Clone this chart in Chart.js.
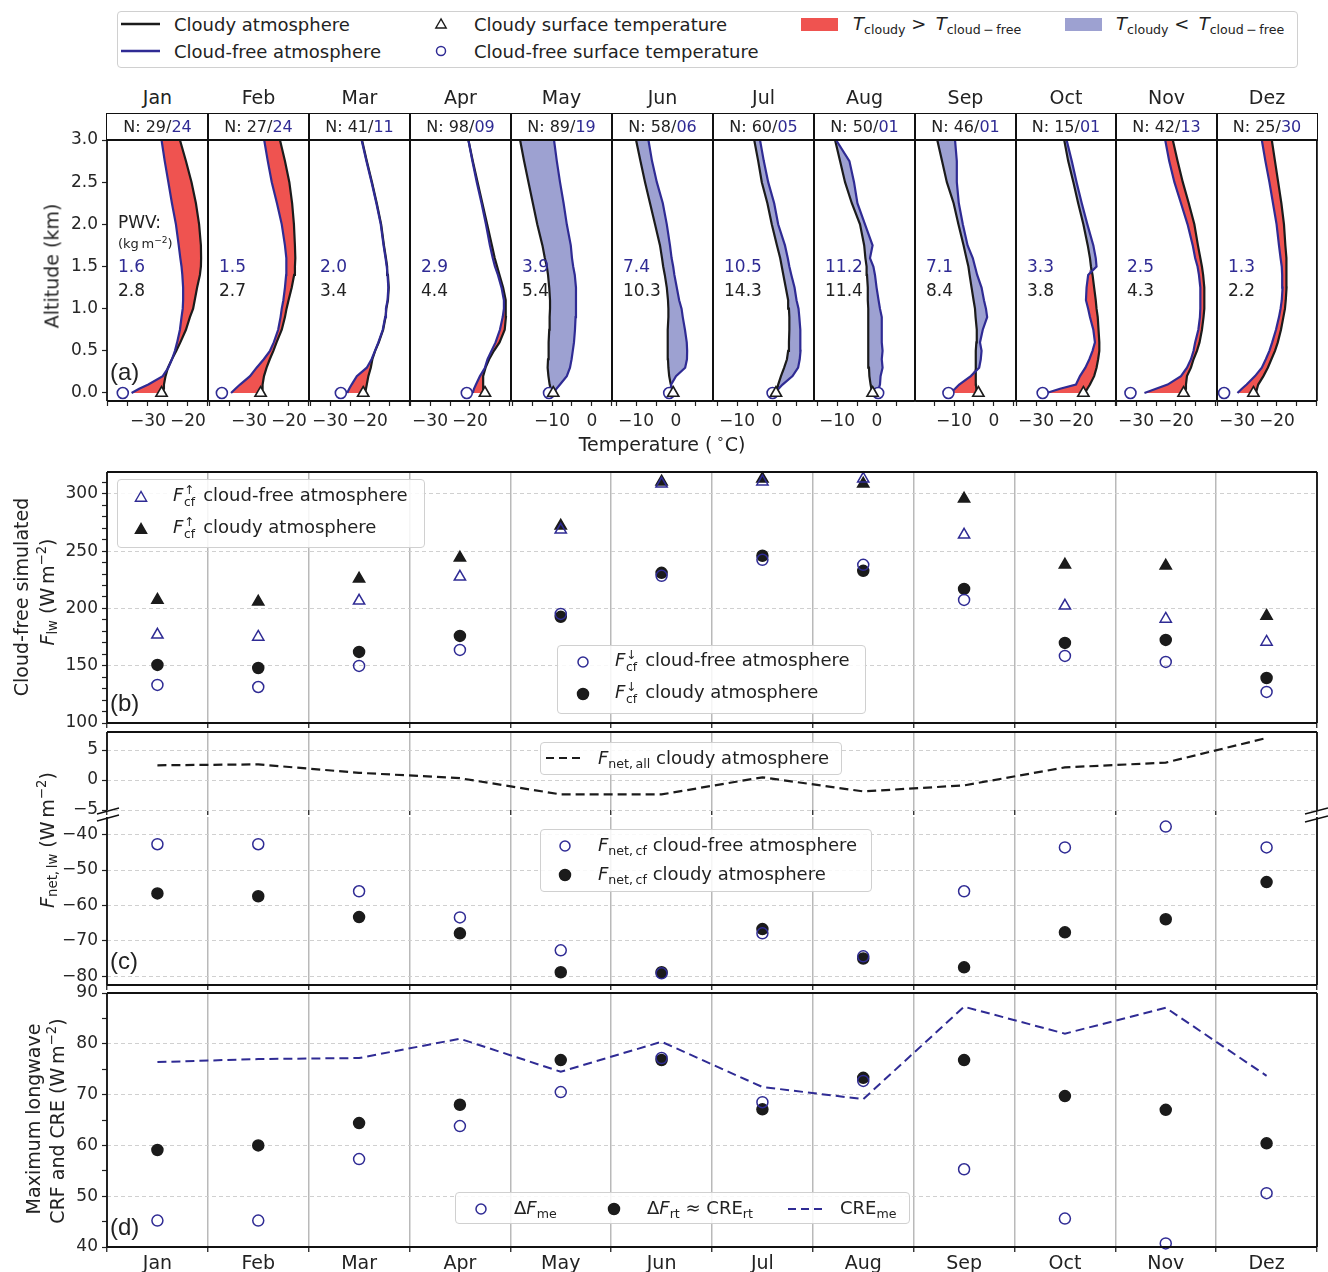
<!DOCTYPE html>
<html>
<head>
<meta charset="utf-8">
<title>Cloudy vs cloud-free longwave fluxes</title>
<script src="https://cdn.jsdelivr.net/npm/chart.js@4.4.1/dist/chart.umd.min.js"></script>
<style>
  body { margin: 0; background: #fff; }
  #fig { position: relative; width: 1328px; height: 1272px; overflow: hidden;
         font-family: 'DejaVu Sans', sans-serif; color: #222; }
  .cv { position: absolute; }
  .txt { position: absolute; white-space: nowrap; line-height: 1; z-index: 4; }
  .box { position: absolute; box-sizing: border-box; border: 1.3px solid #d0d0d0;
         border-radius: 4px; background: rgba(255,255,255,0.85); z-index: 3; }
  .hdr { position: absolute; box-sizing: border-box; border: 1.8px solid #111; z-index: 3; }
  sub { font-size: 70%; vertical-align: -0.3em; line-height: 0; }
  sup { font-size: 70%; vertical-align: 0.55em; line-height: 0; }
  .ss { display: inline-block; font-size: 0.68em; line-height: 0.95; vertical-align: -0.45em; margin: 0 0.2em 0 0.05em; }
  .ss span { display: block; }
  #overlay { position: absolute; left: 0; top: 0; z-index: 5; pointer-events: none; }
</style>
</head>
<body>
<div id="fig">
  <svg id="overlay" width="1328" height="1272"></svg>
</div>
<script>
'use strict';

// ******** DATA **************
const months = ['Jan', 'Feb', 'Mar', 'Apr', 'May', 'Jun', 'Jul', 'Aug', 'Sep', 'Oct', 'Nov', 'Dez'];

// panel (a) - mean profiles, altitude in km, temperature in deg C (one row per month)
const altitudes = [0, 0.05, 0.1, 0.2, 0.3, 0.4, 0.5, 0.6, 0.75, 0.9, 1.0, 1.1, 1.25, 1.4, 1.5, 1.6, 1.75, 2.0, 2.25, 2.5, 2.75, 3.0];

const tempCloudy = [
  [-26.3, -26.2, -26.0, -25.6, -25.0, -24.0, -22.9, -21.9, -20.5, -19.5, -18.7, -18.3, -17.7, -17.0, -16.75, -16.7, -16.75, -17.2, -18.0, -19.1, -20.5, -22.0],
  [-26.75, -26.7, -26.6, -26.25, -25.6, -24.8, -23.9, -23.1, -21.8, -21.0, -20.6, -20.1, -19.3, -18.7, -18.5, -18.4, -18.5, -18.75, -19.2, -19.9, -21.0, -22.25],
  [-21.25, -21.0, -20.8, -20.4, -19.8, -19.4, -18.7, -17.8, -16.7, -16.1, -15.9, -15.5, -15.3, -15.5, -15.7, -16.0, -16.5, -17.2, -18.3, -19.5, -20.8, -22.0],
  [-16.7, -16.7, -16.7, -16.7, -16.1, -15.2, -14.0, -12.6, -11.3, -11.0, -11.0, -11.1, -11.7, -12.6, -13.2, -13.8, -14.5, -15.7, -16.9, -18.1, -19.3, -20.4],
  [-9.8, -10.3, -10.6, -10.9, -11.1, -11.0, -10.9, -10.8, -10.7, -10.6, -10.5, -10.5, -10.7, -11.0, -11.3, -11.8, -12.4, -13.7, -14.8, -15.9, -17.0, -18.0],
  [-0.5, -1.0, -1.3, -1.7, -1.9, -2.0, -2.1, -2.1, -2.0, -1.9, -1.9, -2.0, -2.3, -2.8, -3.2, -3.5, -4.0, -5.25, -6.5, -7.75, -8.9, -10.0],
  [-0.1, 0.1, 0.3, 1.0, 1.8, 2.5, 2.8, 3.0, 3.1, 3.1, 3.0, 2.8, 2.2, 1.6, 1.2, 0.8, 0.0, -1.3, -2.4, -3.8, -4.7, -5.7],
  [-1.1, -1.4, -1.6, -1.9, -2.0, -2.1, -2.2, -2.2, -2.2, -2.2, -2.2, -2.3, -2.3, -2.5, -2.6, -2.9, -3.2, -4.25, -6.3, -8.0, -9.25, -10.5],
  [-4.3, -4.4, -4.5, -4.6, -4.6, -4.5, -4.5, -4.4, -4.3, -4.6, -4.75, -5.1, -5.6, -6.1, -6.4, -6.9, -7.6, -8.9, -10.1, -11.8, -13.0, -14.2],
  [-17.5, -16.9, -16.25, -15.2, -14.6, -14.2, -13.9, -13.9, -14.1, -14.3, -14.6, -14.8, -15.2, -15.6, -16.0, -16.25, -16.8, -17.9, -19.2, -20.4, -21.7, -22.7],
  [-17.75, -17.6, -17.5, -17.25, -16.25, -15.6, -14.75, -14.1, -13.5, -13.1, -12.9, -12.9, -12.9, -13.2, -13.5, -13.9, -14.5, -15.4, -16.8, -18.3, -19.6, -20.8],
  [-25.25, -25.0, -24.7, -23.4, -22.3, -21.4, -20.5, -19.8, -19.0, -18.4, -18.0, -17.8, -17.6, -17.6, -17.6, -17.7, -17.9, -18.25, -18.9, -19.7, -20.5, -21.3]
];

const tempCloudFree = [
  [-34.1, -32.2, -29.9, -26.3, -24.9, -24.0, -23.25, -22.7, -22.0, -21.6, -21.3, -21.2, -21.2, -21.4, -21.6, -21.9, -22.3, -23.0, -24.0, -24.9, -25.8, -26.6],
  [-34.5, -33.4, -32.25, -29.75, -28.1, -26.3, -24.75, -23.8, -22.7, -22.1, -21.8, -21.4, -21.0, -20.7, -20.6, -20.7, -21.0, -21.8, -23.0, -24.3, -25.3, -26.2],
  [-25.7, -25.2, -24.6, -23.3, -20.8, -19.6, -18.75, -17.9, -16.8, -16.2, -16.0, -15.6, -15.4, -15.6, -15.8, -16.1, -16.6, -17.3, -18.4, -19.6, -20.9, -22.1],
  [-19.3, -19.0, -18.5, -17.5, -16.25, -15.6, -14.6, -13.6, -12.5, -11.8, -11.5, -11.5, -12.1, -13.0, -13.75, -14.3, -15.0, -16.0, -17.1, -18.3, -19.4, -20.4],
  [-9.5, -8.9, -8.0, -6.3, -5.5, -5.1, -4.8, -4.5, -4.25, -4.1, -4.0, -4.0, -4.0, -4.3, -4.7, -5.0, -5.3, -6.3, -7.1, -8.0, -8.8, -9.5],
  [-0.8, -1.3, -1.2, 0.0, 2.3, 2.75, 2.8, 2.7, 2.25, 1.7, 1.4, 0.8, 0.2, -0.4, -0.7, -1.1, -1.5, -2.3, -3.3, -4.8, -6.0, -6.9],
  [-0.25, 0.4, 1.4, 3.9, 5.3, 5.7, 5.9, 5.9, 5.8, 5.6, 5.4, 4.9, 4.4, 3.6, 3.1, 2.7, 2.0, 0.3, -0.7, -2.2, -3.3, -4.25],
  [0.3, 0.45, 0.75, 0.9, 1.4, 1.2, 1.4, 1.2, 1.2, 1.2, 0.75, 0.4, -0.1, -0.5, -0.9, -1.75, -1.1, -3.0, -4.9, -5.75, -6.9, -10.25],
  [-11.0, -9.75, -8.7, -5.8, -3.7, -3.3, -3.1, -3.5, -2.8, -1.7, -2.0, -2.5, -3.1, -4.2, -4.75, -5.3, -6.6, -7.8, -8.8, -9.3, -9.3, -9.75],
  [-27.1, -23.75, -19.75, -18.75, -17.4, -16.4, -15.6, -15.0, -15.4, -16.25, -16.7, -17.25, -17.1, -16.7, -14.6, -14.8, -15.4, -16.9, -18.3, -19.6, -20.8, -22.1],
  [-27.9, -25.0, -22.1, -18.75, -17.25, -16.25, -15.6, -15.2, -14.4, -14.0, -13.9, -13.9, -13.9, -14.25, -14.6, -15.2, -15.8, -17.1, -18.75, -20.4, -21.7, -22.7],
  [-29.9, -28.8, -27.6, -25.5, -23.8, -22.8, -21.9, -21.2, -20.25, -19.5, -19.1, -18.8, -18.6, -18.7, -18.8, -19.1, -19.5, -20.1, -21.0, -21.9, -22.9, -23.8]
];

const sfcTempCloudy = [-26.6, -27.1, -21.7, -16.25, -9.7, -0.7, -0.25, -1.1, -3.9, -17.9, -18.1, -25.9];
const sfcTempCloudFree = [-36.3, -36.8, -27.3, -20.8, -10.75, -1.7, -1.1, 0.3, -11.4, -28.1, -31.4, -33.25];

const nCloudy = ['29', '27', '41', '98', '89', '58', '60', '50', '46', '15', '42', '25'];
const nCloudFree = ['24', '24', '11', '09', '19', '06', '05', '01', '01', '01', '13', '30'];
const pwvCloudFree = ['1.6', '1.5', '2.0', '2.9', '3.9', '7.4', '10.5', '11.2', '7.1', '3.3', '2.5', '1.3'];
const pwvCloudy = ['2.8', '2.7', '3.4', '4.4', '5.4', '10.3', '14.3', '11.4', '8.4', '3.8', '4.3', '2.2'];

// temperature axis limits and labelled ticks for each small panel
const tempMin = [-40.25, -40.25, -35.25, -35, -20.25, -16, -16, -15.75, -19.75, -34.75, -35, -35];
const tempMax = [-15, -15, -10, -9.75, 5, 9.25, 9.25, 9.5, 5.5, -9.75, -9.75, -10];
const tempTickLabels = [[-30, -20], [-30, -20], [-30, -20], [-30, -20], [-10, 0], [-10, 0], [-10, 0], [-10, 0], [-10, 0], [-30, -20], [-30, -20], [-30, -20]];

// panel (b) - cloud-free simulated longwave fluxes (W m-2)
const fluxUpCloudFree = [176.9, 175.1, 206.6, 227.5, 268.6, 308.7, 310.5, 313.1, 264.2, 202.2, 190.8, 170.7];
const fluxUpCloudy = [207.4, 205.7, 225.8, 244.1, 272.0, 310.5, 313.1, 308.7, 295.6, 238.0, 237.1, 193.4];
const fluxDownCloudFree = [133.2, 131.4, 149.8, 163.8, 195.2, 228.4, 242.4, 238.0, 207.4, 158.5, 153.3, 127.1];
const fluxDownCloudy = [150.7, 148.0, 162.0, 176.0, 192.6, 231.0, 245.9, 232.8, 217.0, 169.9, 172.5, 139.3];

// panel (c) - net longwave (W m-2)
const fNetAllCloudy = [2.45, 2.6, 1.2, 0.3, -2.4, -2.4, 0.45, -1.9, -0.9, 2.1, 2.9, 7.0];
const fNetCloudFree = [-42.7, -42.7, -56.0, -63.4, -72.7, -79.2, -67.9, -74.4, -56.0, -43.6, -37.7, -43.6];
const fNetCloudy = [-56.6, -57.4, -63.3, -67.9, -78.9, -78.9, -66.7, -75.0, -77.5, -67.6, -63.9, -53.4];

// panel (d) - maximum longwave CRF and CRE (W m-2)
const creMe = [76.4, 77.0, 77.2, 81.0, 74.5, 80.4, 71.5, 69.1, 87.3, 82.0, 87.1, 73.7];
const deltaFrt = [59.1, 60.0, 64.4, 68.0, 76.8, 76.8, 67.1, 73.3, 76.8, 69.7, 67.0, 60.4];
const deltaFme = [45.2, 45.2, 57.3, 63.8, 70.5, 77.2, 68.5, 72.7, 55.3, 45.6, 40.7, 50.6];

// ******** STYLE **************
const BLUE = '#2f2b94';
const BLACK = '#1b1b1b';
const RED_FILL = '#ef5350';
const BLUE_FILL = '#9da1d1';
const GRID_V = '#b9b9b9';
const GRID_H = '#d0d0d0';

Chart.defaults.font.family = "'DejaVu Sans', sans-serif";
Chart.defaults.font.size = 17;
Chart.defaults.color = '#262626';
Chart.defaults.animation = false;
Chart.defaults.responsive = false;
Chart.defaults.events = [];
Chart.defaults.plugins.legend.display = false;
Chart.defaults.plugins.tooltip.enabled = false;

// frame round the plot area (matplotlib spines)
const framePlugin = {
  id: 'frame',
  defaults: { sides: 'tlbr' },
  afterDatasetsDraw(chart, args, opts) {
    const { ctx, chartArea: a } = chart;
    const s = opts.sides;
    ctx.save();
    ctx.strokeStyle = '#111';
    ctx.lineWidth = 1.8;
    ctx.beginPath();
    if (s.includes('t')) { ctx.moveTo(a.left, a.top); ctx.lineTo(a.right, a.top); }
    if (s.includes('b')) { ctx.moveTo(a.left, a.bottom); ctx.lineTo(a.right, a.bottom); }
    if (s.includes('l')) { ctx.moveTo(a.left, a.top); ctx.lineTo(a.left, a.bottom); }
    if (s.includes('r')) { ctx.moveTo(a.right, a.top); ctx.lineTo(a.right, a.bottom); }
    ctx.stroke();
    ctx.restore();
  }
};
Chart.register(framePlugin);

// ********* HELPERS ****************
const fig = document.getElementById('fig');
const overlay = document.getElementById('overlay');
const NS = 'http://www.w3.org/2000/svg';

function minus(v) {
  return String(v).replace('-', '\u2212');
}

function isMajor(v, step) {
  const r = v / step;
  return Math.abs(r - Math.round(r)) < 1e-6;
}

function makeCanvas(left, top, width, height) {
  const c = document.createElement('canvas');
  c.className = 'cv';
  c.width = width;
  c.height = height;
  c.style.left = left + 'px';
  c.style.top = top + 'px';
  fig.appendChild(c);
  return c;
}

function addText(html, x, y, size, how) {
  const d = document.createElement('div');
  d.className = 'txt';
  d.innerHTML = html;
  d.style.left = x + 'px';
  d.style.top = y + 'px';
  d.style.fontSize = size + 'px';
  if (how === 'left') {
    d.style.transform = 'translateY(-50%)';
  } else if (how === 'rot') {
    d.style.transform = 'translate(-50%, -50%) rotate(-90deg)';
  } else {
    d.style.transform = 'translate(-50%, -50%)';
  }
  fig.appendChild(d);
  return d;
}

function addBox(x, y, w, h, cls) {
  const d = document.createElement('div');
  d.className = cls || 'box';
  d.style.left = x + 'px';
  d.style.top = y + 'px';
  d.style.width = w + 'px';
  d.style.height = h + 'px';
  fig.appendChild(d);
  return d;
}

function svgEl(tag, attrs) {
  const el = document.createElementNS(NS, tag);
  for (const k in attrs) el.setAttribute(k, attrs[k]);
  overlay.appendChild(el);
  return el;
}

function markTri(cx, cy, r, stroke, fill) {
  const pts = [[cx, cy - r], [cx - 0.866 * r, cy + 0.5 * r], [cx + 0.866 * r, cy + 0.5 * r]];
  svgEl('polygon', { points: pts.map(p => p.join(',')).join(' '), stroke, fill, 'stroke-width': 1.4 });
}

function markCircle(cx, cy, r, stroke, fill) {
  svgEl('circle', { cx, cy, r, stroke, fill, 'stroke-width': 1.5 });
}

function markLine(x1, y1, x2, y2, stroke, width, dash) {
  const a = { x1, y1, x2, y2, stroke, 'stroke-width': width };
  if (dash) a['stroke-dasharray'] = dash;
  svgEl('line', a);
}

// scatter style dataset on the month axis
function dots(values, style, radius, color, filled) {
  return {
    data: values, showLine: false, fill: false, clip: false,
    pointStyle: style, pointRadius: radius, pointBorderWidth: 1.5,
    pointBorderColor: color, borderColor: color,
    pointBackgroundColor: filled ? color : 'rgba(0,0,0,0)'
  };
}

function monthAxis(showLabels, height) {
  return {
    type: 'category', offset: true,
    grid: { offset: true, color: GRID_V, lineWidth: 1.5, drawTicks: true, tickLength: 5, tickColor: '#222', tickWidth: 1.3 },
    border: { display: false },
    ticks: { display: showLabels, font: { size: 19 }, color: '#222', padding: 1, maxRotation: 0, autoSkip: false },
    afterFit: s => { s.height = height; }
  };
}

function valueAxis(min, max, step, major, width) {
  return {
    type: 'linear', min, max,
    ticks: {
      stepSize: step, includeBounds: false, autoSkip: false, padding: 4,
      callback: v => isMajor(v, major) ? minus(v) : ''
    },
    grid: {
      color: c => (c.tick && isMajor(c.tick.value, major)) ? GRID_H : 'rgba(0,0,0,0)',
      lineWidth: 1, tickLength: 5, tickColor: '#222', tickWidth: 1.2
    },
    border: { display: false, dash: [4, 3] },
    afterFit: s => { s.width = width; }
  };
}

// ********* PANEL (a): PROFILES *******************
const colEdges = [107, 208, 309, 410, 511, 612, 713, 814, 915, 1016, 1116, 1217, 1317];
const profTop = 140, profH = 261;

for (let i = 0; i < months.length; i++) {
  const x0 = colEdges[i];
  const x1 = colEdges[i + 1];
  const yAxW = i === 0 ? 60 : 0;
  const padL = i === 0 ? 0 : 8;
  const padR = 8, padT = 15, axH = 34;
  const cv = makeCanvas(x0 - yAxW - padL, profTop - padT, yAxW + padL + (x1 - x0) + padR, padT + profH + axH);

  const cloudy = altitudes.map((a, k) => ({ x: tempCloudy[i][k], y: a }));
  const clear = altitudes.map((a, k) => ({ x: tempCloudFree[i][k], y: a }));
  // colder of the two profiles: both fills are closed against it
  const colder = altitudes.map((a, k) => ({ x: Math.min(tempCloudy[i][k], tempCloudFree[i][k]), y: a }));
  const labelled = tempTickLabels[i];

  new Chart(cv, {
    type: 'line',
    data: {
      datasets: [
        { data: colder, borderWidth: 0, borderColor: 'rgba(0,0,0,0)', pointRadius: 0, fill: false },
        { data: clear, borderColor: BLUE, borderWidth: 2.2, pointRadius: 0, fill: 0, backgroundColor: BLUE_FILL },
        { data: cloudy, borderColor: BLACK, borderWidth: 2.2, pointRadius: 0, fill: 0, backgroundColor: RED_FILL },
        { data: [{ x: sfcTempCloudy[i], y: 0 }], showLine: false, fill: false, clip: false, order: -1,
          pointStyle: 'triangle', pointRadius: 6.5, pointBorderWidth: 1.6,
          pointBorderColor: BLACK, borderColor: BLACK, pointBackgroundColor: '#fff' },
        { data: [{ x: sfcTempCloudFree[i], y: 0 }], showLine: false, fill: false, clip: false, order: -1,
          pointStyle: 'circle', pointRadius: 5.5, pointBorderWidth: 1.6,
          pointBorderColor: BLUE, borderColor: BLUE, pointBackgroundColor: '#fff' }
      ]
    },
    options: {
      indexAxis: 'y',
      layout: { padding: { left: padL, right: padR, top: padT, bottom: 0 } },
      plugins: { filler: { drawTime: 'beforeDatasetsDraw' } },
      scales: {
        x: {
          type: 'linear', position: 'bottom', min: tempMin[i], max: tempMax[i],
          ticks: {
            stepSize: 5, includeBounds: false, autoSkip: false, maxRotation: 0, padding: 5,
            callback: v => labelled.includes(Math.round(v)) ? minus(Math.round(v)) : ''
          },
          grid: { drawOnChartArea: false, drawTicks: true, tickLength: 5, tickColor: '#222', tickWidth: 1.2 },
          border: { display: false },
          afterFit: s => { s.height = axH; }
        },
        y: {
          type: 'linear', min: -0.095, max: 3.0, display: i === 0,
          ticks: { stepSize: 0.5, includeBounds: false, autoSkip: false, padding: 4, callback: v => v.toFixed(1) },
          grid: { drawOnChartArea: false, tickLength: 5, tickColor: '#222', tickWidth: 1.2 },
          border: { display: false },
          afterFit: s => { s.width = yAxW; }
        }
      }
    }
  });

  // titles, N box and PWV numbers
  const xc = (x0 + x1) / 2;
  addText(months[i], xc, 97, 19, 'center');
  addBox(x0 - 0.9, 113, x1 - x0 + 1.8, 28, 'hdr');
  addText('N: ' + nCloudy[i] + '/<span style="color:' + BLUE + '">' + nCloudFree[i] + '</span>', xc, 127, 16, 'center');
  addText(pwvCloudFree[i], x0 + 11, 266, 17, 'left').style.color = BLUE;
  addText(pwvCloudy[i], x0 + 11, 290, 17, 'left');
}

addText('PWV:', 118, 222, 17, 'left');
addText('(kg&#8201;m<sup>\u22122</sup>)', 118, 243, 13, 'left');
addText('Altitude (km)', 52, 266, 19, 'rot');
addText('Temperature (&#8201;<sup>\u2218</sup>C)', 662, 444, 19, 'center');
addText('(a)', 110, 372, 24, 'left').style.fontFamily = "'Liberation Sans', sans-serif";

// ********* PANEL (b) *******************
new Chart(makeCanvas(0, 457, 1328, 286), {
  type: 'line',
  data: {
    labels: months,
    datasets: [
      dots(fluxUpCloudFree, 'triangle', 6.5, BLUE, false),
      dots(fluxUpCloudy, 'triangle', 6.5, BLACK, true),
      dots(fluxDownCloudFree, 'circle', 5.5, BLUE, false),
      dots(fluxDownCloudy, 'circle', 5.5, BLACK, true)
    ]
  },
  options: {
    layout: { padding: { left: 0, right: 11, top: 15, bottom: 0 } },
    scales: { x: monthAxis(false, 20), y: valueAxis(100, 319, 10, 50, 107) }
  }
});

// ********* PANEL (c): broken axis, two charts *******************
new Chart(makeCanvas(0, 717, 1328, 108), {
  type: 'line',
  data: {
    labels: months,
    datasets: [{ data: fNetAllCloudy, borderColor: BLACK, borderWidth: 2.2, borderDash: [9, 5], pointRadius: 0, fill: false }]
  },
  options: {
    layout: { padding: { left: 0, right: 11, top: 15, bottom: 0 } },
    plugins: { frame: { sides: 'tlr' } },
    scales: { x: monthAxis(false, 15), y: valueAxis(-5, 8, 5, 5, 107) }
  }
});

new Chart(makeCanvas(0, 802, 1328, 198), {
  type: 'line',
  data: {
    labels: months,
    datasets: [
      dots(fNetCloudFree, 'circle', 5.5, BLUE, false),
      dots(fNetCloudy, 'circle', 5.5, BLACK, true)
    ]
  },
  options: {
    layout: { padding: { left: 0, right: 11, top: 15, bottom: 0 } },
    plugins: { frame: { sides: 'lbr' } },
    scales: { x: monthAxis(false, 15), y: valueAxis(-82.5, -35, 10, 10, 107) }
  }
});

// ********* PANEL (d) *******************
new Chart(makeCanvas(0, 978, 1328, 294), {
  type: 'line',
  data: {
    labels: months,
    datasets: [
      { data: creMe, borderColor: BLUE, borderWidth: 2, borderDash: [9, 5], pointRadius: 0, fill: false },
      dots(deltaFme, 'circle', 5.5, BLUE, false),
      dots(deltaFrt, 'circle', 5.5, BLACK, true)
    ]
  },
  options: {
    layout: { padding: { left: 0, right: 11, top: 15, bottom: 0 } },
    scales: { x: monthAxis(true, 25), y: valueAxis(40, 90, 5, 10, 107) }
  }
});

// ********* AXIS TITLES, LETTERS *******************
const FIc = '<i>F</i>';
addText('Cloud-free simulated', 21, 597, 19, 'rot');
addText(FIc + '<sub>lw</sub> (W&#8201;m<sup>\u22122</sup>)', 47, 592, 19, 'rot');
addText(FIc + '<sub>net,&#8201;lw</sub> (W&#8201;m<sup>\u22122</sup>)', 47, 840, 19, 'rot');
addText('Maximum longwave', 33, 1119, 19, 'rot');
addText('CRF and CRE (W&#8201;m<sup>\u22122</sup>)', 57, 1121, 19, 'rot');
['(b)', '(c)', '(d)'].forEach((t, k) => {
  addText(t, 110, [703, 961, 1227][k], 24, 'left').style.fontFamily = "'Liberation Sans', sans-serif";
});

// ********* LEGENDS *******************
const TC = '<i>T</i><sub>cloudy</sub>';
const TCF = '<i>T</i><sub>cloud\u2009\u2212\u2009free</sub>';
addBox(117, 11, 1181, 57);
markLine(121, 24, 160, 24, BLACK, 2.5);
addText('Cloudy atmosphere', 174, 25, 18, 'left');
markLine(121, 51, 160, 51, BLUE, 2.5);
addText('Cloud-free atmosphere', 174, 52, 18, 'left');
markTri(441, 25, 6, BLACK, '#fff');
addText('Cloudy surface temperature', 474, 25, 18, 'left');
markCircle(441, 51, 4.5, BLUE, '#fff');
addText('Cloud-free surface temperature', 474, 52, 18, 'left');
svgEl('rect', { x: 801, y: 18, width: 37, height: 13, fill: RED_FILL });
addText(TC + ' &gt;&#8201; ' + TCF, 853, 24, 18, 'left');
svgEl('rect', { x: 1065, y: 18, width: 37, height: 13, fill: BLUE_FILL });
addText(TC + ' &lt;&#8201; ' + TCF, 1116, 24, 18, 'left');

const fUp = '<i>F</i><span class="ss"><span>\u2191</span><span>cf</span></span>';
const fDown = '<i>F</i><span class="ss"><span>\u2193</span><span>cf</span></span>';
addBox(117, 479, 308, 69);
markTri(141, 498, 6.5, BLUE, 'none');
addText(fUp + ' cloud-free atmosphere', 173, 497, 18, 'left');
markTri(141, 530, 6.5, BLACK, BLACK);
addText(fUp + ' cloudy atmosphere', 173, 529, 18, 'left');

addBox(557, 645, 309, 69);
markCircle(583, 662, 5, BLUE, 'none');
addText(fDown + ' cloud-free atmosphere', 615, 662, 18, 'left');
markCircle(583, 694, 5.5, BLACK, BLACK);
addText(fDown + ' cloudy atmosphere', 615, 694, 18, 'left');

addBox(540, 742, 302, 33);
markLine(546, 758, 584, 758, BLACK, 2.2, '8 5');
addText(FIc + '<sub>net,&#8201;all</sub> cloudy atmosphere', 598, 758, 18, 'left');

addBox(540, 829, 332, 63);
markCircle(565, 846, 5, BLUE, 'none');
addText(FIc + '<sub>net,&#8201;cf</sub> cloud-free atmosphere', 598, 845, 18, 'left');
markCircle(565, 875, 5.5, BLACK, BLACK);
addText(FIc + '<sub>net,&#8201;cf</sub> cloudy atmosphere', 598, 874, 18, 'left');

addBox(455, 1192, 455, 32);
markCircle(481, 1209, 5, BLUE, 'none');
addText('\u0394' + FIc + '<sub>me</sub>', 514, 1208, 18, 'left');
markCircle(614, 1209, 5.5, BLACK, BLACK);
addText('\u0394' + FIc + '<sub>rt</sub> \u2248 CRE<sub>rt</sub>', 647, 1208, 18, 'left');
markLine(788, 1209, 825, 1209, BLUE, 2.2, '8 5');
addText('CRE<sub>me</sub>', 840, 1208, 18, 'left');

// ********* AXIS BREAK MARKS (c) *******************
markLine(97, 814, 119, 808, '#111', 1.3);
markLine(97, 821, 119, 815, '#111', 1.3);
markLine(1305, 814, 1328, 808, '#111', 1.3);
markLine(1305, 822, 1328, 816, '#111', 1.3);
</script>
</body>
</html>
